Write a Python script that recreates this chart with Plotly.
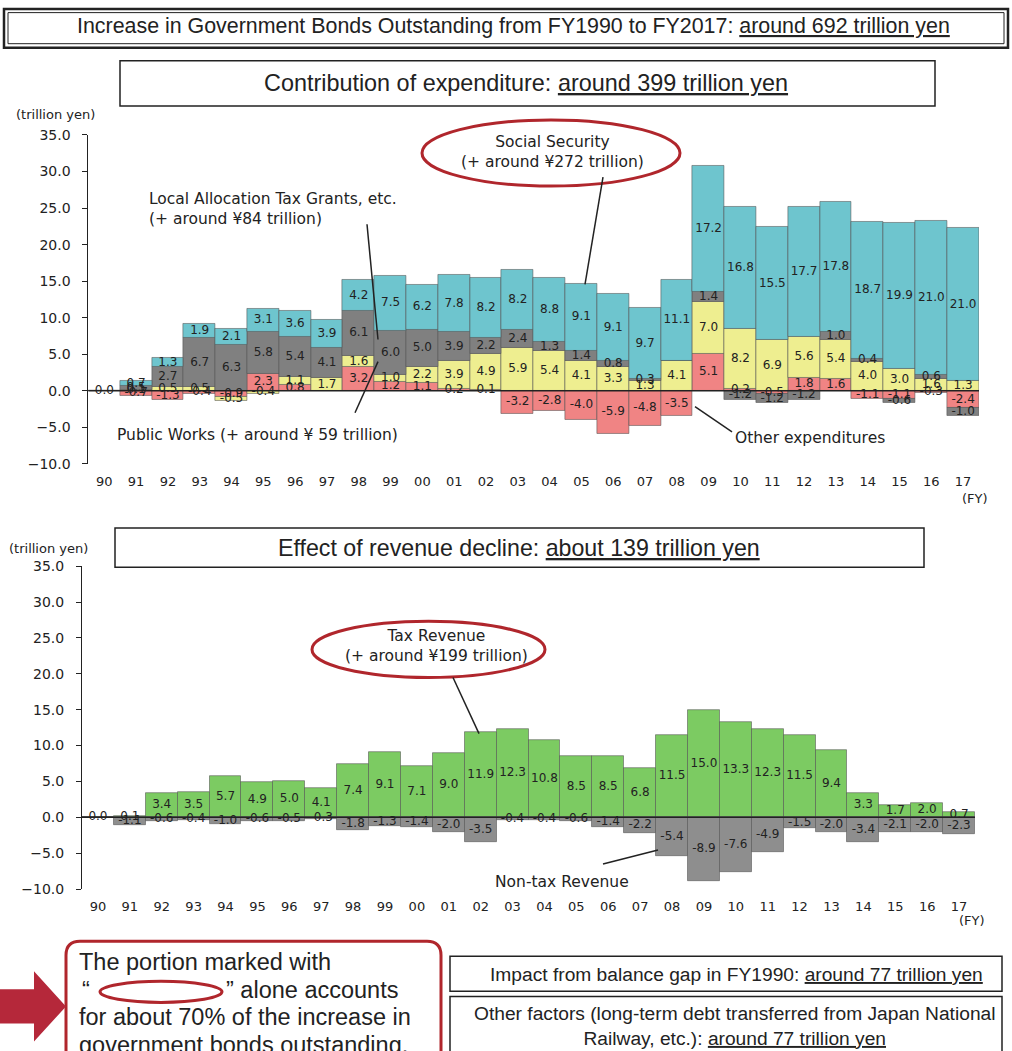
import plotly.graph_objects as go

W, H = 1012, 1051

years = ["90", "91", "92", "93", "94", "95", "96", "97", "98", "99", "00", "01", "02", "03",
         "04", "05", "06", "07", "08", "09", "10", "11", "12", "13", "14", "15", "16", "17"]

# Top chart: contribution of expenditure (trillion yen)
public_works = [0.0, -0.7, -1.3, -0.4, -0.9, 2.3, 0.8, 0.0, 3.2, 1.2, 1.1, 0.2, 0.1, -3.2,
                -2.8, -4.0, -5.9, -4.8, -3.5, 5.1, 0.2, -0.5, 1.8, 1.6, -1.1, -1.1, -0.3, -2.4]
other_exp = [0.0, 0.1, 0.5, 0.5, -0.5, -0.4, 1.1, 1.7, 1.6, 1.0, 2.2, 3.9, 4.9, 5.9,
             5.4, 4.1, 3.3, 1.3, 4.1, 7.0, 8.2, 6.9, 5.6, 5.4, 4.0, 3.0, 1.6, 1.3]
local_alloc = [0.0, 0.5, 2.7, 6.7, 6.3, 5.8, 5.4, 4.1, 6.1, 6.0, 5.0, 3.9, 2.2, 2.4,
               1.3, 1.4, 0.8, 0.3, 0.0, 1.4, -1.2, -1.2, -1.2, 1.0, 0.4, -0.6, 0.6, -1.0]
social_security = [0.0, 0.7, 1.3, 1.9, 2.1, 3.1, 3.6, 3.9, 4.2, 7.5, 6.2, 7.8, 8.2, 8.2,
                   8.8, 9.1, 9.1, 9.7, 11.1, 17.2, 16.8, 15.5, 17.7, 17.8, 18.7, 19.9, 21.0, 21.0]

# Bottom chart: effect of revenue decline (trillion yen)
tax_revenue = [0.0, 0.1, 3.4, 3.5, 5.7, 4.9, 5.0, 4.1, 7.4, 9.1, 7.1, 9.0, 11.9, 12.3,
               10.8, 8.5, 8.5, 6.8, 11.5, 15.0, 13.3, 12.3, 11.5, 9.4, 3.3, 1.7, 2.0, 0.7]
nontax_revenue = [0.0, -1.1, -0.6, -0.4, -1.0, -0.6, -0.5, -0.3, -1.8, -1.3, -1.4, -2.0, -3.5, -0.4,
                  -0.4, -0.6, -1.4, -2.2, -5.4, -8.9, -7.6, -4.9, -1.5, -2.0, -3.4, -2.1, -2.0, -2.3]

C_RED = "#F08484"
C_YEL = "#EEEE90"
C_GRAY = "#808080"
C_CYAN = "#6EC5CE"
C_GREEN = "#7CCB62"
C_GRAY2 = "#8E8E8E"
OUTLINE = "rgba(80,80,80,0.55)"
FONT = "Liberation Sans, Arial, sans-serif"
FONT_C = "DejaVu Sans, Liberation Sans, Arial, sans-serif"
TXT = "#222"


def stack_labels(series_list, xs):
    n = len(xs)
    pos = [0.0] * n
    neg = [0.0] * n
    X, Y, T = [], [], []
    for k, vals in enumerate(series_list):
        for i, v in enumerate(vals):
            if v > 0:
                c = pos[i] + v / 2
                pos[i] += v
            elif v < 0:
                c = neg[i] + v / 2
                neg[i] += v
            else:
                if k == 0 and i == 0:
                    X.append(xs[i]); Y.append(0.0); T.append("0.0")
                continue
            X.append(xs[i]); Y.append(c); T.append(f"{v:.1f}")
    return X, Y, T


fig = go.Figure()

top_series = [(public_works, C_RED, "Public Works"), (other_exp, C_YEL, "Other expenditures"),
              (local_alloc, C_GRAY, "Local Allocation Tax Grants, etc."),
              (social_security, C_CYAN, "Social Security")]
for vals, col, name in top_series:
    fig.add_trace(go.Bar(x=years, y=vals, name=name, marker=dict(color=col, line=dict(color=OUTLINE, width=1)),
                         xaxis="x", yaxis="y"))
X, Y, T = stack_labels([s[0] for s in top_series], years)
fig.add_trace(go.Scatter(x=X, y=Y, text=T, mode="text", textfont=dict(size=12, color=TXT, family=FONT_C),
                         xaxis="x", yaxis="y", hoverinfo="skip"))

bot_series = [(tax_revenue, C_GREEN, "Tax Revenue"), (nontax_revenue, C_GRAY2, "Non-tax Revenue")]
for vals, col, name in bot_series:
    fig.add_trace(go.Bar(x=years, y=vals, name=name, marker=dict(color=col, line=dict(color=OUTLINE, width=1)),
                         xaxis="x2", yaxis="y2"))
X, Y, T = stack_labels([s[0] for s in bot_series], years)
fig.add_trace(go.Scatter(x=X, y=Y, text=T, mode="text", textfont=dict(size=12, color=TXT, family=FONT_C),
                         xaxis="x2", yaxis="y2", hoverinfo="skip"))

# page-to-figure vertical calibration (the photographed page is slightly taller than the figure)
SY, OY = 0.982, 9.4


def px(x):
    return x / W


def py(y):
    return 1 - ((y - OY) / SY) / H


yax = dict(range=[-10, 35], dtick=5, tickformat=".1f", showgrid=False, zeroline=False,
           showline=True, linecolor="#222", linewidth=1, ticks="outside", ticklen=5, tickcolor="#222",
           tickfont=dict(size=14, color=TXT, family=FONT_C), ticklabelstandoff=9)
xax = dict(type="category", categoryorder="array", categoryarray=years, range=[-0.5, 27.5],
           showgrid=False, zeroline=False, showline=False, ticks="",
           tickfont=dict(size=13, color=TXT, family=FONT_C), ticklabelstandoff=8)

fig.update_layout(
    width=W, height=H, autosize=False, margin=dict(l=0, r=0, t=0, b=0),
    barmode="relative", bargap=0, showlegend=False,
    plot_bgcolor="white", paper_bgcolor="white",
    font=dict(family=FONT, color=TXT),
    xaxis=dict(domain=[px(88.4), px(979)], anchor="y", **xax),
    yaxis=dict(domain=[py(464), py(136)], anchor="x", **yax),
    xaxis2=dict(domain=[px(82), px(975)], anchor="y2", **xax),
    yaxis2=dict(domain=[py(888), py(566)], anchor="x2", **yax),
)

shapes = []


def rect(x0, y0, x1, y1, color="#222", width=1.5):
    shapes.append(dict(type="rect", xref="paper", yref="paper", x0=px(x0), x1=px(x1), y0=py(y1), y1=py(y0),
                       line=dict(color=color, width=width), layer="above"))


def ellipse(x0, y0, x1, y1, color="#B0262C", width=3):
    shapes.append(dict(type="circle", xref="paper", yref="paper", x0=px(x0), x1=px(x1), y0=py(y1), y1=py(y0),
                       line=dict(color=color, width=width), layer="above"))


def seg(x0, y0, x1, y1, color="#222", width=1.5):
    shapes.append(dict(type="line", xref="paper", yref="paper", x0=px(x0), x1=px(x1), y0=py(y0), y1=py(y1),
                       line=dict(color=color, width=width), layer="above"))


def path(points, fill, color, width=0, close=True):
    s = "M " + " L ".join(f"{px(a):.5f},{py(b):.5f}" for a, b in points) + (" Z" if close else "")
    shapes.append(dict(type="path", xref="paper", yref="paper", path=s, fillcolor=fill,
                       line=dict(color=color, width=width), layer="above"))


# zero lines
for yr, xr in (("y", "x domain"), ("y2", "x2 domain")):
    shapes.append(dict(type="line", xref=xr, yref=yr, x0=0, x1=1, y0=0, y1=0,
                       line=dict(color="#222", width=1.5), layer="above"))

# Title boxes
rect(4, 10.5, 1008, 49, width=2.5)
rect(8, 14, 1004, 45, width=1)
rect(120, 62, 935, 107, width=1.5)
rect(115, 528, 924, 567, width=1.5)

# Callouts top chart
ellipse(422, 121, 680, 187)
seg(603, 178, 585, 285)
seg(367, 225, 378, 340)
seg(355, 413, 378, 362)
seg(695, 407, 732, 432)
# Callouts bottom chart
ellipse(312, 621, 545, 677)
seg(453, 677, 479, 733)
seg(603, 863, 658, 849)

# Bottom-left red rounded box + arrow
r = 14
x0, y0, x1, y1 = 66, 940, 441, 1075
rb = (f"M {px(x0 + r)},{py(y0)} L {px(x1 - r)},{py(y0)} Q {px(x1)},{py(y0)} {px(x1)},{py(y0 + r)} "
      f"L {px(x1)},{py(y1)} L {px(x0)},{py(y1)} L {px(x0)},{py(y0 + r)} Q {px(x0)},{py(y0)} {px(x0 + r)},{py(y0)} Z")
shapes.append(dict(type="path", xref="paper", yref="paper", path=rb, line=dict(color="#B0262C", width=3),
                   layer="above"))
path([(0, 988), (34, 988), (34, 970), (66, 1005), (34, 1040), (34, 1022), (0, 1022)], "#B5283A", "#B5283A")
ellipse(100, 980, 222, 1001, width=3)

# Right boxes
rect(450, 955, 1002, 990, width=1.5)
rect(450, 995, 1002, 1070, width=1.5)

fig.update_layout(shapes=shapes)

ann = []


def text(x, y, s, size, xanchor="center", align="center", family=FONT):
    ann.append(dict(x=px(x), y=py(y), xref="paper", yref="paper", text=s, showarrow=False,
                    xanchor=xanchor, yanchor="middle", align=align,
                    font=dict(size=size, color=TXT, family=family)))


text(513, 27, "Increase in Government Bonds Outstanding from FY1990 to FY2017: <u>around 692 trillion yen</u>", 21.4)
text(526, 84, "Contribution of expenditure: <u>around 399 trillion yen</u>", 23.4)
text(519, 548, "Effect of revenue decline: <u>about 139 trillion yen</u>", 23.2)
text(55, 116, "(trillion yen)", 13, family=FONT_C)
text(48, 548, "(trillion yen)", 13, family=FONT_C)
text(975, 499, "(FY)", 13, family=FONT_C)
text(972, 919, "(FY)", 13, family=FONT_C)

text(552, 153, "Social Security<br>(+ around ¥272 trillion)", 15.5, family=FONT_C)
text(147, 210, "Local Allocation Tax Grants, etc.<br>(+ around ¥84 trillion)", 15.5, xanchor="left",
     align="left", family=FONT_C)
text(115, 435, "Public Works (+ around ¥ 59 trillion)", 15.5, xanchor="left", family=FONT_C)
text(733, 438, "Other expenditures", 15.5, xanchor="left", family=FONT_C)
text(436, 646, "Tax Revenue<br>(+ around ¥199 trillion)", 15.5, family=FONT_C)
text(562, 881, "Non-tax Revenue", 15.5, family=FONT_C)

text(77, 961, "The portion marked with", 23.5, xanchor="left")
text(80, 989, "“", 23.5, xanchor="left")
text(224, 989, "” alone accounts", 23.5, xanchor="left")
text(77, 1016, "for about 70% of the increase in", 23.5, xanchor="left")
text(77, 1043, "government bonds outstanding.", 23.5, xanchor="left")

text(736, 973, "Impact from balance gap in FY1990: <u>around 77 trillion yen</u>", 19.2)
text(735, 1025, "Other factors (long-term debt transferred from Japan National<br>Railway, etc.): <u>around 77 trillion yen</u>", 19.2)

fig.update_layout(annotations=ann)

fig.write_html("out.html", config={"displayModeBar": False},
               post_script="document.body.style.margin='0';document.body.style.overflow='hidden';")
